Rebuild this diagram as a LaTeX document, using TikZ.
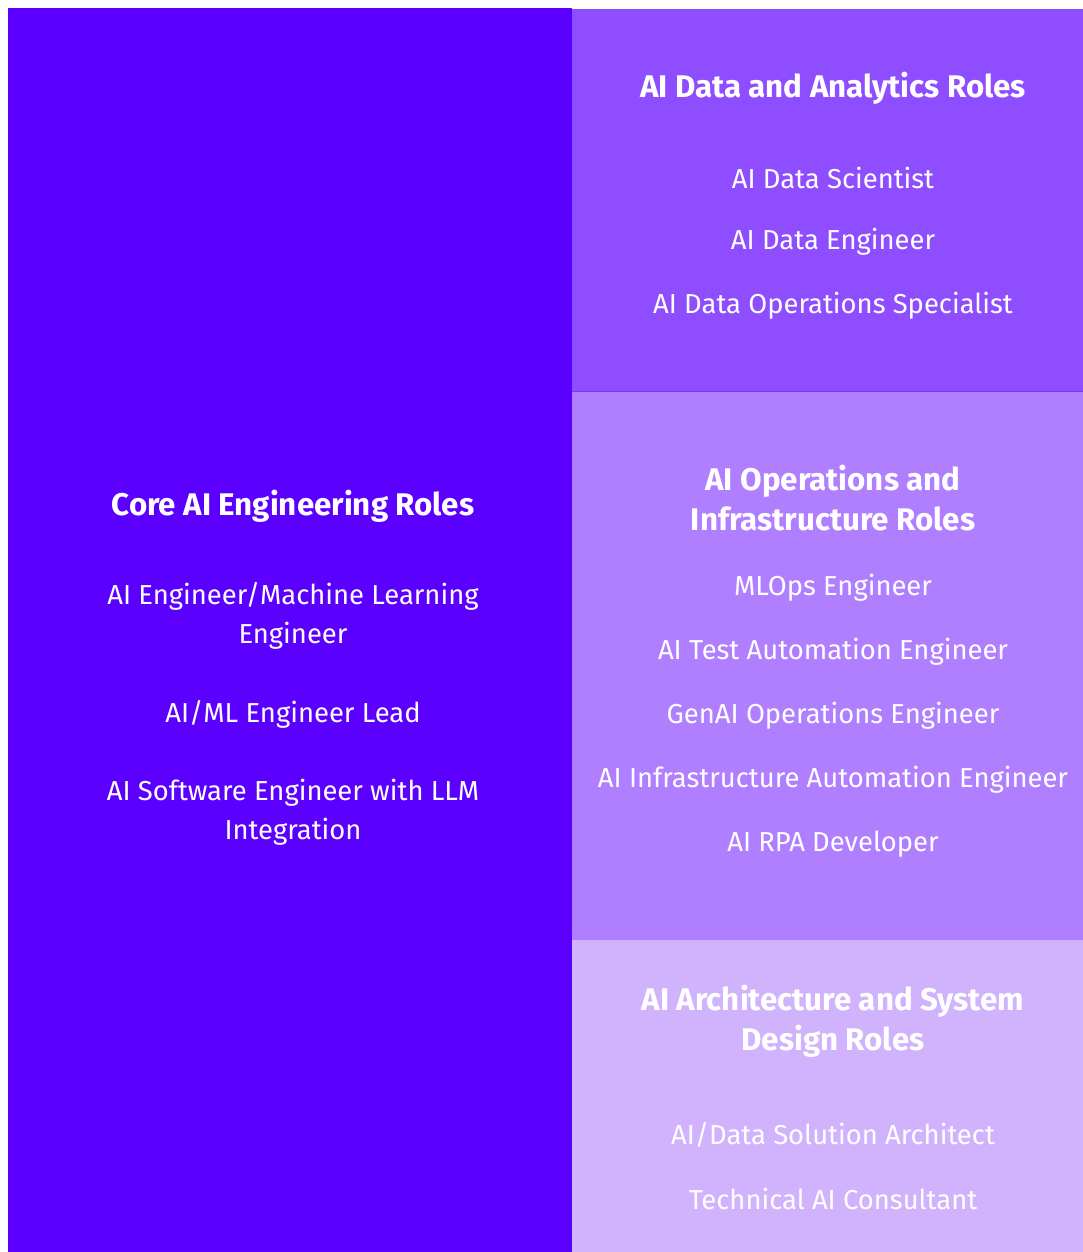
\documentclass[tikz,border=0pt]{standalone}
\usepackage{fontspec}
\setmainfont{Fira Sans}
\usetikzlibrary{positioning}
\definecolor{coreviolet}{HTML}{5B00FF}
\definecolor{dataviolet}{HTML}{8E4DFF}
\definecolor{opsviolet}{HTML}{B07FFF}
\definecolor{archviolet}{HTML}{D0B3FC}
\definecolor{edgeviolet}{HTML}{7A38F2}
\tikzset{
  title/.style={text=white,font=\bfseries\fontsize{31.3}{40}\selectfont,align=center},
  role/.style={text=white,font=\fontsize{27.4}{39}\selectfont,align=center}
}

\begin{document}
\begin{tikzpicture}[x=1pt,y=-1pt]
    \useasboundingbox (0,0) rectangle (1083,1252);
    % panels
    \fill [coreviolet] (8,8) rectangle (572,1252);
    \fill [dataviolet] (572,9) rectangle (1083,391);
    \fill [opsviolet] (572,391) rectangle (1083,940);
    \fill [archviolet] (572,940) rectangle (1083,1252);
    \draw [edgeviolet, line width=1pt] (572,391) -- (1083,391);

    % core
    \node [title] (core) at (293,506) {Core AI Engineering Roles};
    \node [role] (core1) at (293,616) {AI Engineer/Machine Learning\\Engineer};
    \node [role] (core2) at (293,714) {AI/ML Engineer Lead};
    \node [role] (core3) at (293,812) {AI Software Engineer with LLM\\Integration};

    % data
    \node [title] (data) at (833,88) {AI Data and Analytics Roles};
    \node [role] (data1) at (833,178) {AI Data Scientist};
    \node [role] (data2) at (833,242) {AI Data Engineer};
    \node [role] (data3) at (833,306) {AI Data Operations Specialist};

    % ops
    \node [title] (ops) at (833,498) {AI Operations and\\Infrastructure Roles};
    \node [role] (ops1) at (833,588) {MLOps Engineer};
    \node [role] (ops2) at (833,652) {AI Test Automation Engineer};
    \node [role] (ops3) at (833,716) {GenAI Operations Engineer};
    \node [role] (ops4) at (833,780) {AI Infrastructure Automation Engineer};
    \node [role] (ops5) at (833,844) {AI RPA Developer};

    % arch
    \node [title] (arch) at (833,1021) {AI Architecture and System\\Design Roles};
    \node [role] (arch1) at (833,1135) {AI/Data Solution Architect};
    \node [role] (arch2) at (833,1199) {Technical AI Consultant};
\end{tikzpicture}
\end{document}
